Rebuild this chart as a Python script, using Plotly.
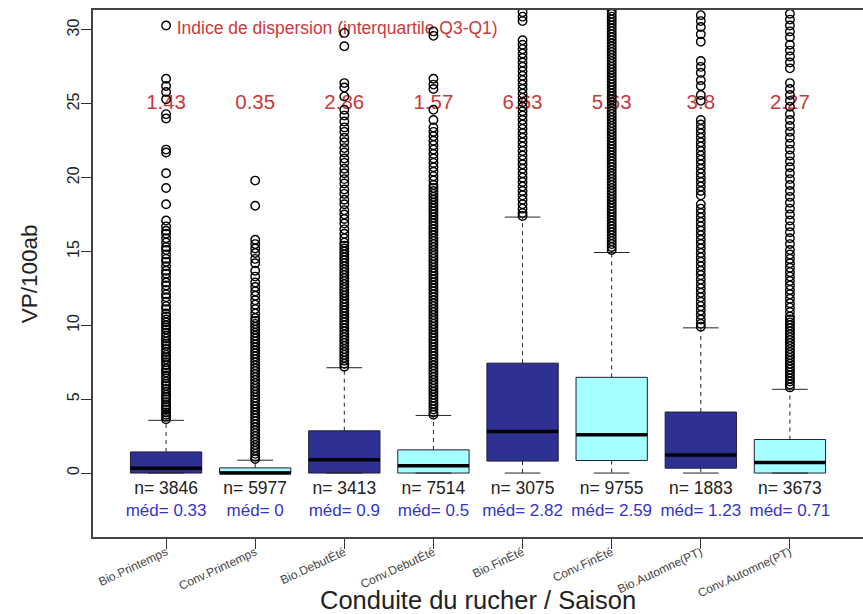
import plotly.graph_objects as go

# ---------------- data ----------------
categories = ["Bio.Printemps", "Conv.Printemps", "Bio.DebutÉté", "Conv.DebutÉté",
              "Bio.FinÉté", "Conv.FinÉté", "Bio.Automne(PT)", "Conv.Automne(PT)"]
conduite = ["Bio", "Conv", "Bio", "Conv", "Bio", "Conv", "Bio", "Conv"]
positions = [1, 2, 3, 4, 5, 6, 7, 8]

q1 = [0, 0, 0, 0, 0.81, 0.85, 0.33, 0]
median = [0.33, 0, 0.9, 0.5, 2.82, 2.59, 1.23, 0.71]
q3 = [1.43, 0.35, 2.86, 1.57, 7.44, 6.48, 4.13, 2.27]
whisker_low = [0, 0, 0, 0, 0, 0, 0, 0]
whisker_high = [3.57, 0.87, 7.13, 3.9, 17.33, 14.93, 9.83, 5.67]

n_obs = [3846, 5977, 3413, 7514, 3075, 9755, 1883, 3673]
med_labels = ["0.33", "0", "0.9", "0.5", "2.82", "2.59", "1.23", "0.71"]
iqr_labels = ["1.43", "0.35", "2.86", "1.57", "6.63", "5.63", "3.8", "2.27"]

y_ticks = [0, 5, 10, 15, 20, 25, 30]

out_bio_printemps = [30.3, 26.7, 26.2, 25.8, 25.3, 24.3, 24.0, 21.9, 21.7, 20.3, 19.3, 18.2,
                     17.1, 16.7, 16.4, 16.2, 15.9, 15.6, 15.3, 15.1, 14.8, 14.5, 14.3, 14.0,
                     13.7, 13.5, 13.2, 12.9, 12.7, 12.4, 12.1, 11.9, 11.6, 11.3, 11.1, 10.8,
                     10.6, 10.4, 10.2, 10.0, 9.85, 9.7, 9.5, 9.3, 9.1, 8.9, 8.75, 8.6, 8.4,
                     8.2, 8.0, 7.85, 7.7, 7.5, 7.3, 7.1, 6.95, 6.8, 6.6, 6.4, 6.2, 6.05, 5.9,
                     5.7, 5.5, 5.3, 5.15, 5.0, 4.8, 4.6, 4.45, 4.3, 4.1, 3.95, 3.8, 3.65]
out_conv_printemps = [19.8, 18.1, 15.8, 15.5, 15.2, 14.9, 14.5, 14.2, 13.7, 13.3, 12.9, 12.6,
                      12.3, 12.0, 11.7, 11.4, 11.1, 10.8, 10.5, 10.3, 10.1, 9.9, 9.7, 9.5, 9.3,
                      9.1, 8.9, 8.7, 8.5, 8.3, 8.1, 7.9, 7.7, 7.5, 7.3, 7.1, 6.9, 6.7, 6.5,
                      6.3, 6.1, 5.9, 5.7, 5.5, 5.3, 5.1, 4.9, 4.7, 4.5, 4.3, 4.1, 3.9, 3.7,
                      3.5, 3.3, 3.1, 2.9, 2.7, 2.5, 2.3, 2.1, 1.9, 1.7, 1.5, 1.3, 1.1, 0.95]
out_bio_debut = [29.8, 28.9, 26.4, 26.1, 25.5, 24.6, 24.2, 23.8, 23.4, 23.1, 22.7, 22.4, 22.0,
                 21.7, 21.3, 21.0, 20.6, 20.3, 19.9, 19.6, 19.2, 18.9, 18.5, 18.2, 17.8, 17.5,
                 17.2, 16.9, 16.5, 16.2, 15.9, 15.6, 15.4, 15.2, 15.0, 14.8, 14.6, 14.4, 14.2,
                 14.0, 13.8, 13.6, 13.4, 13.2, 13.0, 12.8, 12.6, 12.4, 12.2, 12.0, 11.8, 11.6,
                 11.4, 11.2, 11.0, 10.8, 10.6, 10.4, 10.2, 10.0, 9.8, 9.6, 9.4, 9.2, 9.0, 8.8,
                 8.6, 8.4, 8.2, 8.0, 7.8, 7.6, 7.4, 7.2]
out_conv_debut = [29.9, 29.6, 26.7, 26.3, 26.0, 24.6, 23.9, 23.4, 23.1, 22.8, 22.5, 22.2, 21.9,
                  21.6, 21.3, 21.0, 20.7, 20.4, 20.1, 19.8,
                  19.5, 19.3, 19.1, 18.9, 18.7, 18.5, 18.3, 18.1, 17.9, 17.7, 17.5, 17.3, 17.1,
                  16.9, 16.7, 16.5, 16.3, 16.1, 15.9, 15.7, 15.5, 15.3, 15.1, 14.9, 14.7, 14.5,
                  14.3, 14.1, 13.9, 13.7, 13.5, 13.3, 13.1, 12.9, 12.7, 12.5, 12.3, 12.1, 11.9,
                  11.7, 11.5, 11.3, 11.1, 10.9, 10.7, 10.5, 10.3, 10.1, 9.9, 9.7, 9.5, 9.3, 9.1,
                  8.9, 8.7, 8.5, 8.3, 8.1, 7.9, 7.7, 7.5, 7.3, 7.1, 6.9, 6.7, 6.5, 6.3, 6.1,
                  5.9, 5.7, 5.5, 5.3, 5.1, 4.9, 4.7, 4.5, 4.3, 4.1, 3.95]
out_bio_fin = [31.2, 30.9, 30.6, 29.3, 29.0, 28.7, 28.4, 28.1, 27.8, 27.5, 27.2, 26.9, 26.6,
               26.3, 26.0, 25.7, 25.4, 25.1, 24.8, 24.5, 24.2, 23.9, 23.6, 23.3, 23.0, 22.7,
               22.4, 22.1, 21.8, 21.5, 21.2, 20.9, 20.6, 20.3, 20.0, 19.7, 19.4, 19.1, 18.8,
               18.5, 18.2, 17.9, 17.6, 17.4]
out_conv_fin = [31.3, 31.1, 30.9, 30.7, 30.5, 30.3, 30.1, 29.9, 29.7, 29.5, 29.3, 29.1, 28.9,
                28.7, 28.5, 28.3, 28.1, 27.9, 27.7, 27.5, 27.3, 27.1, 26.9, 26.7, 26.5, 26.3,
                26.1, 25.9, 25.7, 25.5, 25.3, 25.1, 24.9, 24.7, 24.5, 24.3, 24.1, 23.9, 23.7,
                23.5, 23.3, 23.1, 22.9, 22.7, 22.5, 22.3, 22.1, 21.9, 21.7, 21.5, 21.3, 21.1,
                20.9, 20.7, 20.5, 20.3, 20.1, 19.9, 19.7, 19.5, 19.3, 19.1, 18.9, 18.7, 18.5,
                18.3, 18.1, 17.9, 17.7, 17.5, 17.3, 17.1, 16.9, 16.7, 16.5, 16.3, 16.1, 15.9,
                15.7, 15.5, 15.3, 15.1]
out_bio_automne = [31.0, 30.6, 30.2, 29.7, 29.2, 27.9, 27.5, 27.1, 26.6, 26.2, 25.6, 25.2, 23.9,
                   23.6, 23.3, 23.0, 22.7, 22.4, 22.1, 21.8, 21.5, 21.2, 20.9, 20.6, 20.3, 20.0,
                   19.7, 19.4, 19.1, 18.8, 18.2, 17.9, 17.6, 17.3, 17.0, 16.7, 16.4, 16.1, 15.8,
                   15.5, 15.2, 14.9, 14.6, 14.3, 14.0, 13.7, 13.4, 13.1, 12.8, 12.5, 12.2, 11.9,
                   11.6, 11.3, 11.0, 10.7, 10.4, 10.1, 9.9]
out_conv_automne = [31.1, 30.7, 30.3, 29.9, 29.5, 29.0, 28.6, 28.2, 27.8, 27.4, 26.4, 26.0, 25.6,
                    25.2, 24.8, 24.3, 23.9, 23.5, 23.1, 22.7, 22.3, 21.9, 21.5, 21.1, 20.7, 20.3,
                    19.9, 19.5, 19.1, 18.7, 18.3, 17.9, 17.5, 17.1, 16.7, 16.3, 15.9, 15.5, 15.1,
                    14.8, 14.5, 14.2, 13.9, 13.6, 13.3, 13.0, 12.7, 12.4, 12.1, 11.8, 11.5, 11.2,
                    10.9, 10.6, 10.4, 10.2, 10.0, 9.8, 9.6, 9.4, 9.2, 9.0, 8.8, 8.6, 8.4, 8.2,
                    8.0, 7.8, 7.6, 7.4, 7.2, 7.0, 6.8, 6.6, 6.4, 6.2, 6.0, 5.8]

outliers = [out_bio_printemps, out_conv_printemps, out_bio_debut, out_conv_debut,
            out_bio_fin, out_conv_fin, out_bio_automne, out_conv_automne]

# ---------------- styling ----------------
FONT = "Liberation Sans, Arial, sans-serif"
fill_colors = {"Bio": "#2E3192", "Conv": "#A6FFFF"}
border_color = "#1E1E3A"
red = "#C93A3A"
blue = "#3434C8"
BOX_W = 0.8
CAP_HALF = 0.2

fig = go.Figure()

# whiskers (dashed)
wx, wy = [], []
for i, p in enumerate(positions):
    wx += [p, p, None, p, p, None]
    wy += [q3[i], whisker_high[i], None, q1[i], whisker_low[i], None]
fig.add_trace(go.Scatter(x=wx, y=wy, mode="lines", line=dict(color="#222", width=1, dash="4px,4px"),
                         hoverinfo="skip", showlegend=False))
# staples
cx, cy = [], []
for i, p in enumerate(positions):
    cx += [p - CAP_HALF, p + CAP_HALF, None, p - CAP_HALF, p + CAP_HALF, None]
    cy += [whisker_high[i], whisker_high[i], None, whisker_low[i], whisker_low[i], None]
fig.add_trace(go.Scatter(x=cx, y=cy, mode="lines", line=dict(color="#222", width=1),
                         hoverinfo="skip", showlegend=False))

# boxes
for g in ["Bio", "Conv"]:
    idx = [i for i, c in enumerate(conduite) if c == g]
    fig.add_trace(go.Box(
        x=[positions[i] for i in idx],
        q1=[q1[i] for i in idx],
        median=[median[i] for i in idx],
        q3=[q3[i] for i in idx],
        lowerfence=[q1[i] for i in idx],
        upperfence=[q3[i] for i in idx],
        width=BOX_W, whiskerwidth=0,
        fillcolor=fill_colors[g],
        line=dict(color=border_color, width=1),
        boxpoints=False, hoverinfo="skip", showlegend=False,
    ))

# medians (thick)
mx, my = [], []
for i, p in enumerate(positions):
    mx += [p - BOX_W / 2, p + BOX_W / 2, None]
    my += [median[i], median[i], None]
fig.add_trace(go.Scatter(x=mx, y=my, mode="lines", line=dict(color="black", width=3.5),
                         hoverinfo="skip", showlegend=False))

# IQR labels
fig.add_trace(go.Scatter(x=positions, y=[25] * len(positions), mode="text", text=iqr_labels,
                         textfont=dict(family=FONT, size=20.5, color=red),
                         hoverinfo="skip", showlegend=False))
fig.add_trace(go.Scatter(x=[2.92], y=[30], mode="text",
                         text=["Indice de dispersion (interquartile Q3-Q1)"],
                         textfont=dict(family=FONT, size=17.5, color=red),
                         hoverinfo="skip", showlegend=False))

# outliers
ox, oy = [], []
for i, p in enumerate(positions):
    ox += [p] * len(outliers[i])
    oy += outliers[i]
fig.add_trace(go.Scatter(x=ox, y=oy, mode="markers",
                         marker=dict(symbol="circle-open", size=8.5, color="black", line=dict(width=1.4)),
                         hoverinfo="skip", showlegend=False))

# n= and méd= labels
fig.add_trace(go.Scatter(x=positions, y=[-1.15] * len(positions), mode="text",
                         text=[f"n= {n}" for n in n_obs],
                         textfont=dict(family=FONT, size=17.5, color="#222"),
                         hoverinfo="skip", showlegend=False))
fig.add_trace(go.Scatter(x=positions, y=[-2.64] * len(positions), mode="text",
                         text=[f"méd= {m}" for m in med_labels],
                         textfont=dict(family=FONT, size=17, color=blue),
                         hoverinfo="skip", showlegend=False))

fig.update_layout(
    width=863, height=614,
    margin=dict(l=93, r=0, t=10, b=77),
    paper_bgcolor="white", plot_bgcolor="white",
    font=dict(family=FONT, color="#222"),
    boxmode="overlay",
    xaxis=dict(range=[0.18, 8.82], tickmode="array", tickvals=positions, ticktext=categories,
               tickangle=-25, tickfont=dict(size=12, color="#444"), ticklabelstandoff=-8,
               ticks="outside", ticklen=10, tickcolor="#333",
               showline=True, mirror=True, linecolor="#444", linewidth=1.5,
               showgrid=False, zeroline=False, automargin=False),
    yaxis=dict(range=[-4.33, 31.35], tickmode="array", tickvals=y_ticks,
               tickangle=-90, tickfont=dict(size=16, color="#222"), ticklabelstandoff=-4,
               ticks="outside", ticklen=10, tickcolor="#333",
               showline=True, linecolor="#444", linewidth=1.5,
               showgrid=False, zeroline=False, automargin=False),
    annotations=[
        dict(text="Conduite du rucher / Saison", xref="paper", yref="paper", x=0.5, y=-0.12,
             xanchor="center", yanchor="middle", showarrow=False,
             font=dict(family=FONT, size=25.5, color="#222")),
        dict(text="VP/100ab", xref="paper", yref="paper", x=-0.082, y=0.5, textangle=-90,
             xanchor="center", yanchor="middle", showarrow=False,
             font=dict(family=FONT, size=22.5, color="#222")),
    ],
)

fig.write_html("out.html")
